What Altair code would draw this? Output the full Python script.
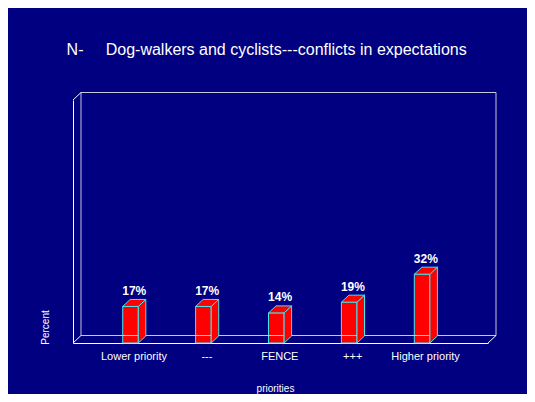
import json
import altair as alt
import pandas as pd

# ---- data ----
categories = ["Lower priority", "---", "FENCE", "+++", "Higher priority"]
values = [17, 17, 14, 19, 32]
title_text = "N-" + "\u00a0" * 5 + "Dog-walkers and cyclists---conflicts in expectations"
x_title = "priorities"
y_title = "Percent"

# ---- layout / style constants ----
W, H = 415, 243
XMIN, XMAX = -0.789, 4.904
YMAX = 113
PXX = W / (XMAX - XMIN)
PXY = H / YMAX
BAR_W = 15.6
DEPTH_X, DEPTH_Y = 7.5, 7.0
FRAME_DX, FRAME_DY = 8, 7.5
BG = "#000080"
RED = "#ff0000"
EDGE = "#40e8f0"
FONT = "Liberation Sans"
BACK_LINE = "#c8c8dc"

hw = BAR_W / 2 / PXX
dxu = DEPTH_X / PXX
dyu = DEPTH_Y / PXY

xs = alt.Scale(domain=[XMIN, XMAX], nice=False, zero=False)
ys = alt.Scale(domain=[0, YMAX], nice=False, zero=False)

fronts = pd.DataFrame({"cat": categories, "i": list(range(len(categories))), "v": values})
fronts["x"] = fronts["i"] - hw
fronts["x2"] = fronts["i"] + hw
fronts["y0"] = 0.0
fronts["label"] = [f"{v}%" for v in values]
fronts["lx"] = fronts["i"] + dxu / 2
fronts["ly"] = fronts["v"] + dyu

side_rows, top_rows = [], []
for i, (c, v) in enumerate(zip(categories, values)):
    side_rows.append({"cat": c, "x": i + hw, "y": v, "y2": 0.0})
    side_rows.append({"cat": c, "x": i + hw + dxu, "y": v + dyu, "y2": dyu})
    top_rows.append({"cat": c, "y": v, "x": i - hw, "x2": i + hw})
    top_rows.append({"cat": c, "y": v + dyu, "x": i - hw + dxu, "x2": i + hw + dxu})
sides = pd.DataFrame(side_rows)
tops = pd.DataFrame(top_rows)

one = pd.DataFrame({"k": [0]})


def rule(x, x2, y, y2, color, xo=0, yo=0, x2o=0, y2o=0):
    return alt.Chart(one).mark_rule(
        color=color, strokeWidth=1, xOffset=xo, yOffset=yo, x2Offset=x2o, y2Offset=y2o
    ).encode(
        x=alt.datum(x, scale=xs),
        x2=alt.datum(x2),
        y=alt.datum(y, scale=ys),
        y2=alt.datum(y2),
    )


# back wall (offset by depth)
back = [
    rule(XMIN, XMAX, YMAX, YMAX, BACK_LINE, FRAME_DX, -FRAME_DY, FRAME_DX, -FRAME_DY),
    rule(XMIN, XMAX, 0, 0, BACK_LINE, FRAME_DX, -FRAME_DY, FRAME_DX, -FRAME_DY),
    rule(XMIN, XMIN, 0, YMAX, BACK_LINE, FRAME_DX, -FRAME_DY, FRAME_DX, -FRAME_DY),
    rule(XMAX, XMAX, 0, YMAX, BACK_LINE, FRAME_DX, -FRAME_DY, FRAME_DX, -FRAME_DY),
]
# diagonals joining front and back
diags = [
    rule(XMIN, XMIN, YMAX, YMAX, "white", 0, 0, FRAME_DX, -FRAME_DY),
    rule(XMIN, XMIN, 0, 0, "white", 0, 0, FRAME_DX, -FRAME_DY),
    rule(XMAX, XMAX, 0, 0, "white", 0, 0, FRAME_DX, -FRAME_DY),
]

label_expr = json.dumps(categories) + "[datum.value]"

front_bars = alt.Chart(fronts).mark_rect(
    fill=RED, stroke=EDGE, strokeWidth=1
).encode(
    x=alt.X("x:Q", scale=xs, axis=alt.Axis(
        values=list(range(len(categories))), labelExpr=label_expr,
        title=x_title, grid=False, ticks=False, tickSize=0,
        domain=True, domainColor="white", domainWidth=1,
        labelColor="white", labelFont=FONT, labelFontSize=11,
        labelPadding=7, labelOffset=3, labelAngle=0,
        labelOverlap=False, labelFlush=False,
        titleColor="white", titleFont=FONT, titleFontSize=10,
        titleFontWeight="normal", titleX=202, titleY=48,
        titleAlign="center", titleBaseline="alphabetic",
    )),
    x2="x2:Q",
    y=alt.Y("v:Q", scale=ys, axis=alt.Axis(
        labels=False, ticks=False, tickSize=0, grid=False,
        domain=True, domainColor="white", domainWidth=1,
        title=y_title, titleColor="white", titleFont=FONT, titleFontSize=10,
        titleFontWeight="normal", titleX=-28, titleY=227, titleAngle=270,
        titleAlign="center", titleBaseline="middle",
    )),
    y2="y0:Q",
)

side_faces = alt.Chart(sides).mark_area(
    fill=RED, stroke=EDGE, strokeWidth=1, orient="vertical"
).encode(
    x=alt.X("x:Q", scale=xs),
    y=alt.Y("y:Q", scale=ys, stack=False),
    y2="y2:Q",
    detail="cat:N",
)

top_faces = alt.Chart(tops).mark_area(
    fill=RED, stroke=EDGE, strokeWidth=1, orient="horizontal"
).encode(
    y=alt.Y("y:Q", scale=ys),
    x=alt.X("x:Q", scale=xs, stack=False),
    x2="x2:Q",
    detail="cat:N",
)

value_labels = alt.Chart(fronts).mark_text(
    color="white", font=FONT, fontSize=12, fontWeight="bold",
    baseline="alphabetic", align="center", dy=-4.5
).encode(
    x=alt.X("lx:Q", scale=xs),
    y=alt.Y("ly:Q", scale=ys),
    text="label:N",
)

title = alt.Chart(one).mark_text(
    text=title_text, color="white", font=FONT, fontSize=16,
    align="left", baseline="alphabetic"
).encode(x=alt.value(-6.4), y=alt.value(-45))

chart = alt.layer(
    front_bars, *back, side_faces, top_faces, value_labels, *diags, title
).properties(
    width=W, height=H, background=BG,
    padding={"left": 65, "top": 92, "right": 39, "bottom": 51},
    autosize=alt.AutoSizeParams(type="none"),
).configure_view(strokeWidth=0)

chart.save("out.html", embed_options={"renderer": "svg", "actions": False})
